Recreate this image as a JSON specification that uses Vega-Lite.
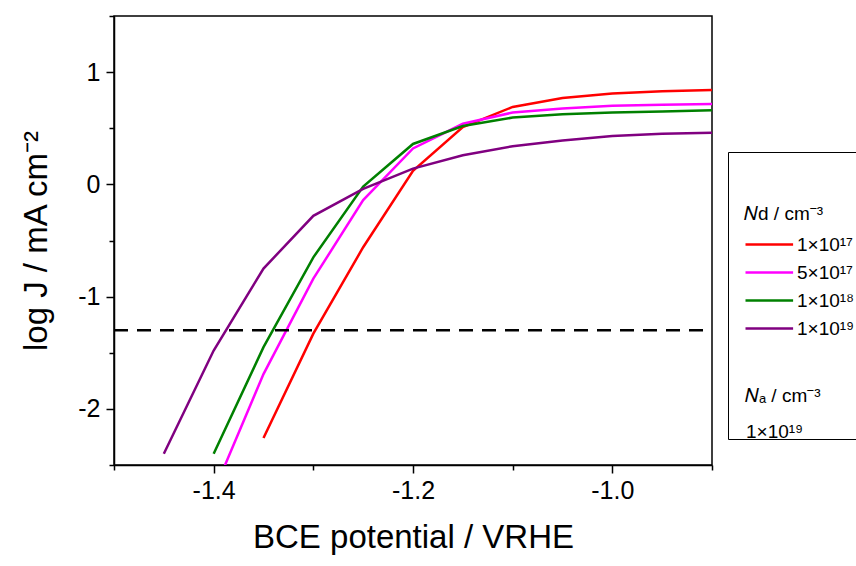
{
  "$schema": "https://vega.github.io/schema/vega-lite/v6.json",
  "width": 598,
  "height": 449,
  "autosize": {"type": "none"},
  "padding": {"left": 114, "top": 16, "right": 144, "bottom": 101},
  "background": "white",
  "config": {
    "font": "Liberation Sans",
    "view": {"stroke": "black", "strokeWidth": 1.5},
    "axis": {
      "domainColor": "black",
      "domainWidth": 1.5,
      "tickColor": "black",
      "tickWidth": 1.5,
      "labelColor": "black",
      "labelFontSize": 25,
      "titleColor": "black",
      "titleFontSize": 33,
      "titleFontWeight": "normal",
      "grid": false
    }
  },
  "datasets": {
    "curves": [
      {"E": -1.35, "logJ": -2.26, "Nd": "1×10¹⁷"},
      {"E": -1.3, "logJ": -1.33, "Nd": "1×10¹⁷"},
      {"E": -1.25, "logJ": -0.56, "Nd": "1×10¹⁷"},
      {"E": -1.2, "logJ": 0.12, "Nd": "1×10¹⁷"},
      {"E": -1.15, "logJ": 0.51, "Nd": "1×10¹⁷"},
      {"E": -1.1, "logJ": 0.69, "Nd": "1×10¹⁷"},
      {"E": -1.05, "logJ": 0.77, "Nd": "1×10¹⁷"},
      {"E": -1.0, "logJ": 0.81, "Nd": "1×10¹⁷"},
      {"E": -0.95, "logJ": 0.83, "Nd": "1×10¹⁷"},
      {"E": -0.9, "logJ": 0.84, "Nd": "1×10¹⁷"},
      {"E": -1.4, "logJ": -2.74, "Nd": "5×10¹⁷"},
      {"E": -1.35, "logJ": -1.69, "Nd": "5×10¹⁷"},
      {"E": -1.3, "logJ": -0.84, "Nd": "5×10¹⁷"},
      {"E": -1.25, "logJ": -0.14, "Nd": "5×10¹⁷"},
      {"E": -1.2, "logJ": 0.32, "Nd": "5×10¹⁷"},
      {"E": -1.15, "logJ": 0.54, "Nd": "5×10¹⁷"},
      {"E": -1.1, "logJ": 0.64, "Nd": "5×10¹⁷"},
      {"E": -1.05, "logJ": 0.675, "Nd": "5×10¹⁷"},
      {"E": -1.0, "logJ": 0.7, "Nd": "5×10¹⁷"},
      {"E": -0.95, "logJ": 0.71, "Nd": "5×10¹⁷"},
      {"E": -0.9, "logJ": 0.715, "Nd": "5×10¹⁷"},
      {"E": -1.4, "logJ": -2.4, "Nd": "1×10¹⁸"},
      {"E": -1.35, "logJ": -1.45, "Nd": "1×10¹⁸"},
      {"E": -1.3, "logJ": -0.65, "Nd": "1×10¹⁸"},
      {"E": -1.25, "logJ": -0.02, "Nd": "1×10¹⁸"},
      {"E": -1.2, "logJ": 0.36, "Nd": "1×10¹⁸"},
      {"E": -1.15, "logJ": 0.52, "Nd": "1×10¹⁸"},
      {"E": -1.1, "logJ": 0.595, "Nd": "1×10¹⁸"},
      {"E": -1.05, "logJ": 0.625, "Nd": "1×10¹⁸"},
      {"E": -1.0, "logJ": 0.64, "Nd": "1×10¹⁸"},
      {"E": -0.95, "logJ": 0.65, "Nd": "1×10¹⁸"},
      {"E": -0.9, "logJ": 0.66, "Nd": "1×10¹⁸"},
      {"E": -1.45, "logJ": -2.4, "Nd": "1×10¹⁹"},
      {"E": -1.4, "logJ": -1.48, "Nd": "1×10¹⁹"},
      {"E": -1.35, "logJ": -0.75, "Nd": "1×10¹⁹"},
      {"E": -1.3, "logJ": -0.28, "Nd": "1×10¹⁹"},
      {"E": -1.25, "logJ": -0.04, "Nd": "1×10¹⁹"},
      {"E": -1.2, "logJ": 0.14, "Nd": "1×10¹⁹"},
      {"E": -1.15, "logJ": 0.26, "Nd": "1×10¹⁹"},
      {"E": -1.1, "logJ": 0.34, "Nd": "1×10¹⁹"},
      {"E": -1.05, "logJ": 0.39, "Nd": "1×10¹⁹"},
      {"E": -1.0, "logJ": 0.43, "Nd": "1×10¹⁹"},
      {"E": -0.95, "logJ": 0.45, "Nd": "1×10¹⁹"},
      {"E": -0.9, "logJ": 0.46, "Nd": "1×10¹⁹"}
    ],
    "threshold": [
      {"x": -1.5, "x2": -0.9, "y": -1.3, "Na": "1×10¹⁹"}
    ]
  },
  "layer": [
    {
      "data": {"name": "curves"},
      "mark": {"type": "line", "clip": true, "strokeWidth": 2.5},
      "encoding": {
        "x": {
          "field": "E",
          "type": "quantitative",
          "scale": {"domain": [-1.5, -0.9], "nice": false, "zero": false},
          "axis": {
            "title": "BCE potential / VRHE",
            "values": [-1.5, -1.4, -1.3, -1.2, -1.1, -1.0, -0.9],
            "labelExpr": "indexof(['−1.4','−1.2','−1.0'], format(datum.value,'.1f')) >= 0 ? replace(format(datum.value,'.1f'),'−','-') : ''",
            "tickSize": {"condition": {"test": "indexof(['−1.4','−1.2','−1.0'], format(datum.value,'.1f')) >= 0", "value": 8}, "value": 5},
            "labelPadding": 5,
            "titlePadding": 18
          }
        },
        "y": {
          "field": "logJ",
          "type": "quantitative",
          "scale": {"domain": [-2.5, 1.5], "nice": false, "zero": false},
          "axis": {
            "title": "log J / mA cm⁻²",
            "values": [-2.5, -2, -1.5, -1, -0.5, 0, 0.5, 1, 1.5],
            "labelExpr": "datum.value % 1 == 0 ? replace(format(datum.value,'d'),'−','-') : ''",
            "tickSize": {"condition": {"test": "datum.value % 1 == 0", "value": 8}, "value": 5},
            "labelPadding": 6,
            "titlePadding": 24
          }
        },
        "color": {
          "field": "Nd",
          "type": "nominal",
          "scale": {
            "domain": ["1×10¹⁷", "5×10¹⁷", "1×10¹⁸", "1×10¹⁹", " ", "  ", "   "],
            "range": ["#ff0000", "#ff00ff", "#008000", "#800080", "rgba(0,0,0,0)", "rgba(0,0,0,0)", "rgba(0,0,0,0)"]
          },
          "legend": {
            "orient": "none",
            "legendX": 614,
            "legendY": 136,
            "title": ["", "𝑁d / cm⁻³"],
            "titleFontSize": 19,
            "titleFontWeight": "normal",
            "titleColor": "black",
            "titleLineHeight": 37,
            "labelFontSize": 19,
            "labelColor": "black",
            "symbolType": "M-1,0H2.4",
            "symbolSize": 784,
            "symbolStrokeWidth": 2.5,
            "symbolFillColor": "rgba(0,0,0,0)",
            "strokeColor": "black",
            "fillColor": "white",
            "padding": 16,
            "rowPadding": 2,
            "labelOffset": 22
          }
        }
      }
    },
    {
      "data": {"name": "threshold"},
      "mark": {"type": "rule", "strokeWidth": 2.5, "color": "black"},
      "encoding": {
        "x": {"field": "x", "type": "quantitative"},
        "x2": {"field": "x2"},
        "y": {"field": "y", "type": "quantitative"},
        "strokeDash": {
          "field": "Na",
          "type": "nominal",
          "scale": {"range": [[14, 9]]},
          "legend": {
            "orient": "none",
            "legendX": 631,
            "legendY": 371,
            "title": "𝑁ₐ / cm⁻³",
            "titleFontSize": 19,
            "titleFontWeight": "normal",
            "titleColor": "black",
            "titlePadding": 16,
            "labelFontSize": 19,
            "labelColor": "black",
            "symbolOpacity": 0,
            "symbolSize": 0,
            "labelOffset": -18,
            "padding": 0
          }
        }
      }
    }
  ]
}
